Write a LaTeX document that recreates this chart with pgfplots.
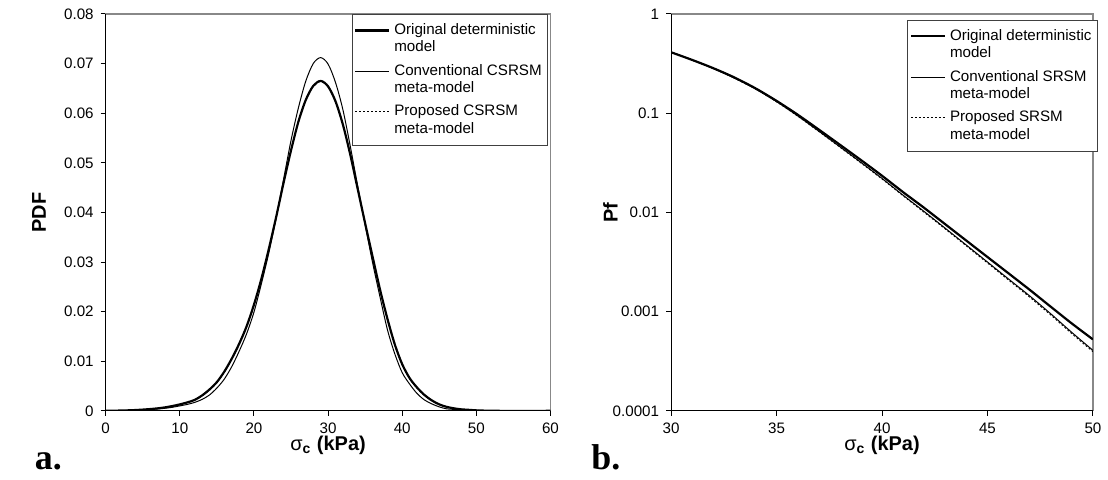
\documentclass[border=0pt]{standalone}
\usepackage{fontspec}
\setmainfont{Liberation Sans}
\newfontfamily\serifb{Liberation Serif}
\usepackage{pgfplots}
\usepackage{pgfplotstable}
\pgfplotsset{compat=1.18}

\pgfplotstableread{
x orig conv prop
0 0.00000 0.00000 0.00000
1 0.00003 0.00000 0.00003
2 0.00006 0.00003 0.00006
3 0.00010 0.00006 0.00010
4 0.00016 0.00010 0.00016
5 0.00025 0.00017 0.00025
6 0.00036 0.00026 0.00036
7 0.00050 0.00037 0.00050
8 0.00070 0.00052 0.00070
9 0.00097 0.00072 0.00096
10 0.0013 0.0010 0.0013
11 0.0017 0.0013 0.0017
12 0.0022 0.0017 0.0022
13 0.0031 0.0023 0.0030
14 0.0043 0.0032 0.0042
15 0.0058 0.0046 0.0057
16 0.0079 0.0064 0.0078
17 0.0105 0.0089 0.0104
18 0.0135 0.0120 0.0134
19 0.0170 0.0155 0.0169
20 0.0214 0.0199 0.0213
21 0.0266 0.0256 0.0265
22 0.0326 0.0318 0.0325
23 0.0391 0.0389 0.0390
24 0.0460 0.0467 0.0459
25 0.0525 0.0545 0.0524
26 0.0583 0.0611 0.0582
27 0.0627 0.0665 0.0626
28 0.0655 0.0700 0.0654
29 0.0665 0.0712 0.0664
30 0.0654 0.0699 0.0653
31 0.0624 0.0662 0.0623
32 0.0577 0.0607 0.0577
33 0.0516 0.0533 0.0516
34 0.0447 0.0453 0.0446
35 0.0378 0.0375 0.0377
36 0.0311 0.0299 0.0310
37 0.0245 0.0230 0.0244
38 0.0186 0.0164 0.0185
39 0.0134 0.0115 0.0133
40 0.0094 0.0077 0.0093
41 0.0066 0.0054 0.0065
42 0.0047 0.0035 0.0046
43 0.0032 0.0022 0.0031
44 0.0021 0.0014 0.0021
45 0.0013 0.0008 0.0013
46 0.0008 0.0004 0.0008
47 0.0005 0.0003 0.0005
48 0.0003 0.0002 0.0003
49 0.0002 0.0001 0.0002
50 0.0001 0.00005 0.0001
51 0.00005 0.00002 0.00005
52 0.00002 0.00000 0.00002
53 0.00000 0.00000 0.00000
60 0.00000 0.00000 0.00000
}\pdfdata

\pgfplotstableread{
x orig conv prop
30 0.411 0.411 0.412
31 0.344 0.343 0.343
32 0.284 0.282 0.282
33 0.229 0.226 0.225
34 0.178 0.176 0.175
35 0.133 0.131 0.130
36 0.0966 0.0940 0.0934
37 0.0684 0.0659 0.0654
38 0.0481 0.0459 0.0455
39 0.0337 0.0319 0.0315
40 0.0234 0.0220 0.0217
41 0.0160 0.0149 0.0147
42 0.0111 0.0102 0.0100
43 0.00759 0.00692 0.00680
44 0.00519 0.00468 0.00459
45 0.00355 0.00316 0.00309
46 0.00243 0.00213 0.00208
47 0.00166 0.00144 0.00140
48 0.00112 0.000951 0.000925
49 0.000759 0.000617 0.000600
50 0.000525 0.000407 0.000395
}\pfdata

\definecolor{frame}{HTML}{888888}
\definecolor{thin}{HTML}{505050}

\pgfplotsset{
  common/.style={
    scale only axis,
    height=199pt,
    axis line style={draw=frame, line width=0.6pt},
    tick style={black, line width=0.5pt},
    major tick length=2.5pt,
    tick align=outside,
    xtick pos=bottom, ytick pos=left,
    tick label style={font=\fontsize{7.6}{9}\selectfont},
    /pgf/number format/assume math mode=true,
    label style={font=\fontsize{7.6}{9}\selectfont},
    every axis x label/.style={at={(axis description cs:0.5,-0.088)}, anchor=center},
    legend style={draw=black!75, line width=0.5pt, font=\fontsize{7.6}{8.8}\selectfont,
      cells={align=left, anchor=west, inner xsep=0.8pt}, inner xsep=1pt, inner ysep=2.5pt, row sep=0.6pt},
    legend image code/.code={\draw[##1] (2pt,4.4pt) -- (19pt,4.4pt);},
    after end axis/.code={
      \draw[black, line width=0.6pt] (rel axis cs:0,1) -- (rel axis cs:0,0) -- (rel axis cs:1,0);
    },
  },
  orig/.style={black, line width=1.1pt},
  conv/.style={thin, line width=0.5pt},
  prop/.style={black, line width=0.45pt, dash pattern=on 1pt off 1pt},
}

\begin{document}
\begin{tikzpicture}
\path (0pt,0pt) rectangle (554pt,240.5pt);

\begin{axis}[common,
  at={(53pt,34.5pt)}, anchor=south west,
  width=223pt,
  xmin=0, xmax=60, ymin=0, ymax=0.08,
  xtick={0,10,...,60},
  ytick={0,0.01,...,0.08},
  scaled y ticks=false,
  yticklabel style={/pgf/number format/.cd, fixed, precision=2},
  xlabel={σ\textsubscript{\bfseries c} \textbf{(kPa)}},
  ylabel={\bfseries PDF},
  every axis y label/.style={at={(axis description cs:-0.15,0.5)}, rotate=90, anchor=center},
  legend style={at={(axis description cs:0.995,1)}, anchor=north east},
]
\addplot[orig, smooth] table[x=x, y=orig] {\pdfdata};
\addlegendentry{Original deterministic\\model}
\addplot[conv, smooth] table[x=x, y=conv] {\pdfdata};
\addlegendentry{Conventional CSRSM\\meta-model}
\addplot[prop, smooth] table[x=x, y=prop] {\pdfdata};
\addlegendentry{Proposed CSRSM\\meta-model}
\end{axis}

\begin{axis}[common,
  at={(336.5pt,34.5pt)}, anchor=south west,
  width=211.5pt,
  ymode=log, log basis y=10,
  xmin=30, xmax=50, ymin=0.0001, ymax=1,
  xtick={30,35,...,50},
  ytick={0.0001,0.001,0.01,0.1,1},
  yticklabels={0.0001,0.001,0.01,0.1,1},
  minor ytick={},
  xlabel={σ\textsubscript{\bfseries c} \textbf{(kPa)}},
  ylabel={\bfseries Pf},
  every axis y label/.style={at={(axis description cs:-0.144,0.5)}, rotate=90, anchor=center},
  legend style={at={(axis description cs:1.012,0.985)}, anchor=north east},
]
\addplot[orig, smooth] table[x=x, y=orig] {\pfdata};
\addlegendentry{Original deterministic\\model}
\addplot[conv, smooth] table[x=x, y=conv] {\pfdata};
\addlegendentry{Conventional SRSM\\meta-model}
\addplot[prop, smooth] table[x=x, y=prop] {\pfdata};
\addlegendentry{Proposed SRSM\\meta-model}
\end{axis}

\node[anchor=base west, font=\serifb\bfseries\fontsize{18}{18}\selectfont] at (14pt,5pt) {a.};
\node[anchor=base west, font=\serifb\bfseries\fontsize{18}{18}\selectfont] at (293pt,5pt) {b.};
\end{tikzpicture}
\end{document}
